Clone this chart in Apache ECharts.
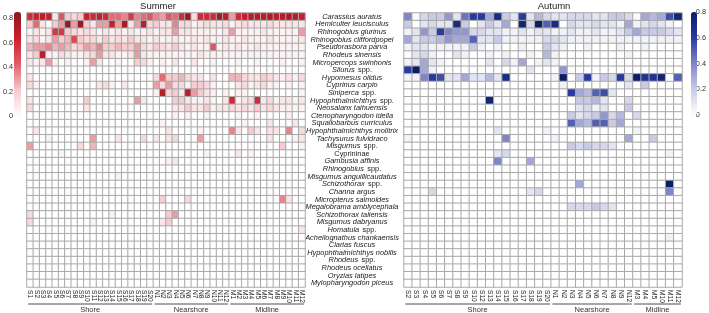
<!DOCTYPE html>
<html><head><meta charset="utf-8">
<script src="https://cdn.jsdelivr.net/npm/echarts@6/dist/echarts.min.js"></script>
<style>html,body{margin:0;padding:0;background:#fff}#c{width:709px;height:313px}</style>
</head><body><div id="c"></div>
<script>
const species = ['Carassius auratus','Hemiculter leucisculus','Rhinogobius giurinus','Rhinogobius cliffordpopei','Pseudorasbora parva','Rhodeus sinensis','Micropercops swinhonis','Silurus spp.','Hypomesus olidus','Cyprinus carpio','Siniperca spp.','Hypophthalmichthys spp.','Neosalanx taihuensis','Ctenopharyngodon idella','Squaliobarbus curriculus','Hypophthalmichthys molitrix','Tachysurus fulvidraco','Misgurnus spp.','Cyprininae','Gambusia affinis','Rhinogobius spp.','Misgurnus anguillicaudatus','Schizothorax spp.','Channa argus','Micropterus salmoides','Megalobrama amblycephala','Schizothorax taliensis','Misgurnus dabryanus','Homatula spp.','Acheilognathus chankaensis','Clarias fuscus','Hypophthalmichthys nobilis','Rhodeus spp.','Rhodeus ocellatus','Oryzias latipes','Mylopharyngodon piceus'];

const summerSites = ['S1','S2','S3','S4','S5','S6','S7','S8','S9','S10','S11','S12','S13','S14','S15','S16','S17','S18','S19','S20','N1','N2','N3','N4','N5','N6','N7','N8','N9','N10','N11','N12','M1','M2','M3','M4','M5','M6','M7','M8','M9','M10','M11','M12'];
const autumnSites = ['S2','S3','S4','S5','S6','S7','S8','S9','S10','S12','S13','S14','S15','S16','S17','S18','S19','S20','N1','N2','N3','N4','N5','N6','N7','N8','N9','N12','M3','M4','M5','M10','M11','M12'];
const summerGroups = [['Shore','S1','S20'],['Nearshore','N1','N12'],['Midline','M1','M12']];
const autumnGroups = [['Shore','S2','S20'],['Nearshore','N1','N12'],['Midline','M3','M12']];
const colorbarTicks = [0,0.2,0.4,0.6,0.8];

// Summer: one row per species, columns follow summerSites
const summerValues = [
[0.6,0.65,0.7,0.65,0.1,0.45,0.2,0.15,0.2,0.65,0.6,0.65,0.6,0.4,0.4,0.35,0.55,0.35,0.4,0.45, 0.35,0.3,0.45,0.4,0.6,0.8,0.15,0.6,0.6,0.6,0.75,0.7, 0.3,0.6,0.65,0.7,0.7,0.7,0.75,0.7,0.7,0.75,0.7,0.65],
[0.2,0.4,0.1,0,0.2,0.3,0.8,0.3,0.8,0.2,0.1,0.3,0.3,0.65,0.3,0.75,0.1,0.3,0.7,0.15, 0.2,0.1,0.1,0.35,0.15,0.15,0.05,0.1,0.15,0.1,0.1,0.15, 0.05,0.1,0.15,0.1,0.1,0.1,0.15,0.1,0.1,0.1,0.1,0.1],
[0.05,0.1,0.05,0.1,0.55,0.55,0.2,0.15,0.1,0.15,0.1,0.05,0.1,0.05,0.1,0.05,0.1,0.05,0.05,0.1, 0.05,0.1,0.1,0.3,0.1,0.1,0.05,0.05,0.05,0.05,0.05,0.1, 0.3,0.05,0.05,0.05,0.05,0.1,0.05,0.05,0.05,0.05,0.05,0.3],
[0.1,0.15,0.05,0.1,0.3,0.2,0.25,0.5,0.2,0.15,0.15,0.1,0.2,0.1,0.15,0.1,0.2,0.1,0.1,0.05, 0.1,0.05,0.05,0.1,0.05,0.05,0.1,0.05,0.1,0.05,0.05,0.1, 0.05,0.05,0.1,0.05,0.05,0.05,0.1,0.05,0.05,0.05,0.05,0.1],
[0.25,0.3,0.3,0.35,0.25,0.3,0.25,0.15,0.2,0.3,0.25,0.35,0.2,0.2,0.25,0.2,0.2,0.3,0.15,0.1, 0.2,0.15,0.1,0.2,0.1,0.05,0.1,0.05,0.05,0.45,0.05,0.1, 0.05,0.1,0.05,0.05,0.1,0.05,0.05,0.05,0.05,0.05,0.05,0.05],
[0.1,0.2,0.7,0.05,0.05,0.15,0.1,0.05,0.05,0.1,0.15,0.3,0.1,0.1,0.05,0.05,0.1,0.3,0.1,0.05, 0.05,0.05,0.05,0.05,0.05,0.05,0.05,0.1,0.05,0.05,0.05,0.05, 0.05,0.05,0.05,0.05,0.05,0.05,0.05,0.05,0.05,0.05,0.05,0.05],
[0.1,0.05,0.1,0.3,0.05,0,0.05,0,0,0.05,0.3,0.1,0,0,0.05,0,0,0.2,0.15,0.05, 0,0.05,0,0.1,0,0,0.1,0,0,0.05,0,0, 0,0.05,0,0,0.05,0,0,0,0.05,0,0,0.05],
[0,0,0,0,0,0,0,0,0,0,0,0,0,0,0,0,0,0,0,0, 0,0,0,0,0,0,0,0,0,0,0,0, 0,0,0,0,0,0,0,0,0,0,0,0],
[0.1,0,0,0,0,0,0,0,0,0,0,0,0,0,0,0,0,0,0,0, 0.15,0.4,0.2,0.2,0.25,0.15,0.1,0.1,0,0.1,0,0, 0.25,0.25,0.15,0.1,0.1,0.2,0.15,0.1,0.05,0.1,0.05,0.15],
[0.15,0.05,0,0,0,0,0,0,0,0,0,0.1,0.15,0.05,0,0.1,0,0,0,0, 0.3,0.15,0.3,0.15,0.15,0.05,0.2,0.2,0.15,0.05,0,0, 0,0.1,0.15,0.05,0.1,0.15,0.05,0.05,0,0.05,0,0.05],
[0,0,0,0,0,0,0,0,0,0,0,0,0,0,0,0,0,0,0,0, 0.05,0.7,0.15,0.2,0.1,0.7,0.3,0.2,0.1,0.05,0,0.05, 0,0.05,0.05,0,0,0,0,0,0,0,0,0.05],
[0.1,0,0,0,0,0,0,0,0,0.2,0,0,0,0,0,0,0,0.3,0.1,0, 0,0,0,0.2,0.2,0.1,0.05,0.05,0.1,0.05,0,0.1, 0.6,0.05,0.1,0.15,0.6,0.1,0.15,0.05,0.1,0.1,0.05,0.1],
[0.15,0,0,0,0,0,0,0,0,0.1,0,0,0,0,0,0,0,0,0,0, 0,0,0,0.1,0.1,0.2,0.1,0.1,0.2,0.05,0.1,0.1, 0.15,0.1,0.15,0.1,0.2,0.1,0.15,0.1,0.05,0.05,0.05,0.05],
[0,0,0,0,0,0,0,0,0,0,0,0,0,0,0,0,0,0,0,0, 0,0,0,0.05,0,0.05,0,0,0.05,0,0,0, 0,0.05,0,0,0.05,0,0,0,0,0.05,0,0],
[0,0,0,0,0,0,0,0,0,0,0,0,0,0,0,0,0,0,0,0, 0,0.05,0,0,0,0,0,0,0,0,0,0, 0,0,0.05,0,0,0,0.1,0,0,0,0.1,0],
[0,0.1,0,0,0,0,0,0,0,0,0,0,0,0,0,0,0,0,0,0, 0,0,0.1,0,0,0,0,0.05,0,0,0,0, 0.35,0.1,0,0.2,0.1,0,0.1,0.1,0,0.35,0,0.15],
[0,0,0,0.05,0,0,0,0,0,0,0.3,0,0,0,0.1,0,0,0,0.15,0, 0.1,0,0.1,0.15,0,0,0,0.3,0,0,0,0, 0,0,0,0,0,0,0.1,0,0,0,0.05,0.1],
[0.3,0,0,0,0,0,0,0,0.15,0,0.25,0,0,0,0,0,0,0,0,0, 0,0,0,0,0,0,0,0,0,0,0,0, 0,0,0,0,0,0,0,0,0.2,0,0,0.05],
[0,0,0,0,0,0.05,0,0,0,0,0,0,0,0,0,0,0,0,0,0, 0,0,0,0,0,0,0,0,0.05,0,0,0, 0,0.1,0,0.05,0,0,0,0,0,0,0,0],
[0,0,0,0,0,0,0,0,0,0,0,0,0,0,0,0,0,0,0,0, 0,0,0.05,0.1,0,0,0,0,0,0,0,0, 0,0,0,0,0,0,0,0,0,0,0,0],
[0,0,0,0,0,0,0,0,0,0,0,0,0,0,0,0,0,0,0,0, 0,0,0,0,0,0,0,0,0,0,0,0, 0,0,0,0,0,0,0,0,0,0,0,0],
[0,0,0,0,0,0,0,0,0,0,0,0,0,0,0.05,0,0,0,0,0, 0,0,0,0,0,0,0,0,0,0,0,0, 0,0,0,0,0,0,0,0,0,0,0,0],
[0,0,0,0,0,0,0,0,0,0,0,0,0,0,0,0,0,0,0,0, 0,0,0,0,0,0,0,0,0,0,0,0, 0,0,0,0,0,0,0,0,0,0,0,0],
[0,0,0,0,0,0,0,0,0,0,0,0,0,0,0,0,0,0,0,0, 0,0,0,0,0,0,0,0,0,0,0,0, 0,0,0,0,0,0,0,0,0,0,0,0],
[0,0,0,0,0,0,0,0,0,0,0,0,0,0,0,0,0,0,0,0, 0,0.2,0,0,0,0.15,0,0,0,0,0,0, 0,0,0,0,0,0,0,0,0.35,0.1,0,0],
[0,0,0,0,0,0,0,0,0,0,0,0,0,0,0,0,0,0,0,0, 0,0,0,0,0,0,0,0,0,0,0,0, 0,0,0,0,0,0,0,0,0,0,0,0],
[0.15,0,0,0,0,0,0,0,0,0,0,0,0,0.05,0,0,0,0,0,0, 0,0,0.2,0.3,0,0,0,0,0,0,0,0, 0,0,0,0,0,0,0,0,0,0,0,0],
[0.15,0,0,0,0,0,0,0,0,0,0.05,0,0,0,0,0,0,0,0,0, 0,0.1,0.2,0,0,0,0,0,0,0,0,0, 0,0,0,0,0,0,0,0,0,0,0,0],
[0,0,0,0,0,0,0,0,0,0,0,0,0,0,0,0,0,0,0,0, 0,0,0,0,0,0,0,0,0,0,0,0, 0,0,0,0,0,0,0,0,0,0,0,0.1],
[0,0,0,0,0,0,0,0,0,0,0,0,0,0,0,0,0,0,0,0, 0,0,0,0,0,0,0,0,0,0,0,0, 0,0,0,0,0,0,0,0,0,0,0,0],
[0,0,0,0,0,0,0,0,0,0,0,0,0,0,0,0,0,0,0,0, 0,0,0,0,0,0,0,0,0,0,0,0, 0,0,0,0,0,0,0,0,0,0,0,0],
[0,0,0,0,0,0,0,0,0,0,0,0,0,0,0,0,0,0,0,0, 0,0,0,0,0,0,0,0,0,0,0,0, 0,0,0,0,0,0,0,0,0,0,0,0],
[0,0,0,0,0,0,0,0,0,0,0,0,0,0,0,0,0,0,0,0, 0,0,0,0,0,0,0,0,0,0,0,0, 0,0,0,0,0,0,0,0,0,0,0,0],
[0,0,0,0,0,0,0,0,0,0,0,0,0,0,0,0,0,0,0,0, 0,0,0,0,0,0,0,0,0,0,0,0, 0,0,0,0,0,0,0,0,0,0,0,0],
[0,0,0,0,0,0,0,0,0,0,0,0,0,0,0,0,0,0,0,0, 0,0,0,0,0,0,0,0,0,0,0,0, 0,0,0,0,0,0,0,0,0,0,0,0],
[0,0,0,0,0,0,0,0,0,0,0,0,0,0,0,0,0,0,0,0, 0,0,0,0,0,0,0,0,0,0,0,0, 0,0,0,0,0,0,0,0,0,0,0,0]
];

// Autumn: one row per species, columns follow autumnSites
const autumnValues = [
[0.4,0.02,0.15,0.2,0.2,0.35,0.1,0.45,0.6,0.6,0.3,0.7,0.2,0.1,0.6,0.1,0.25,0.15, 0.1,0.1,0.15,0.15,0.15,0.1,0.1,0.2,0.2,0.15, 0.02,0.3,0.25,0.3,0.55,0.75],
[0.2,0,0.1,0.15,0.1,0.1,0.7,0.2,0,0.1,0.2,0.1,0.3,0,0.75,0.15,0.85,0.5, 0.7,0,0.15,0.1,0.1,0.15,0.1,0.1,0.05,0.3, 0.05,0.1,0.15,0.1,0.05,0],
[0.05,0.1,0.35,0.2,0.6,0.4,0.35,0.35,0.15,0.15,0.1,0.1,0.05,0.05,0.1,0.05,0.1,0.1, 0.05,0.05,0.1,0.05,0.05,0.1,0.05,0.05,0.1,0.2, 0.3,0.2,0.2,0.2,0.15,0.1],
[0.3,0.1,0.2,0.2,0.25,0.35,0.3,0.3,0.5,0.1,0.1,0.2,0.05,0.05,0.05,0.05,0.05,0.15, 0.15,0.1,0.05,0.05,0.05,0.05,0.05,0.05,0.05,0.05, 0.05,0.05,0.05,0.05,0.05,0.05],
[0.05,0.1,0.1,0.05,0.05,0.05,0.05,0.05,0.2,0.05,0,0.05,0,0,0.05,0,0,0.2, 0.1,0.05,0,0,0.05,0,0,0,0.05,0, 0,0.05,0,0,0,0],
[0,0.1,0.15,0.05,0,0,0.1,0.05,0,0,0.05,0,0.05,0,0,0.05,0,0.25, 0.05,0,0,0,0,0,0,0,0,0.05, 0,0,0,0,0,0],
[0.05,0.1,0.3,0.1,0.05,0,0,0,0,0,0.1,0,0.15,0.05,0.3,0,0.05,0.1, 0.05,0,0,0,0,0,0,0,0,0, 0,0,0,0,0,0],
[0.6,0.8,0.3,0.05,0,0,0,0,0,0,0,0,0,0,0,0.1,0,0, 0,0.35,0,0,0,0,0,0,0,0, 0,0,0,0,0,0],
[0.05,0.05,0.4,0.6,0.55,0.1,0.1,0.3,0.1,0.1,0.25,0.1,0.7,0,0,0,0,0, 0.05,0.8,0,0.2,0.6,0.05,0.2,0.15,0.6,0.15, 0.8,0.65,0.65,0.75,0,0.5],
[0,0,0,0,0,0,0,0,0,0,0,0,0,0,0,0,0,0, 0,0.05,0,0,0,0,0,0,0,0.1, 0,0.2,0,0,0,0],
[0,0,0,0,0,0,0,0,0,0,0,0,0,0,0,0,0,0, 0,0,0.6,0.3,0.25,0.5,0.55,0.1,0,0, 0,0,0,0,0,0],
[0,0,0,0,0,0,0,0,0,0,0.75,0,0,0,0,0,0,0, 0,0,0,0.2,0.2,0.25,0.1,0,0,0.15, 0,0,0,0,0,0],
[0,0,0,0,0,0,0,0,0,0,0,0,0,0,0,0,0,0, 0,0,0,0.1,0.15,0.05,0.1,0,0,0.2, 0,0,0,0,0,0],
[0,0,0,0,0,0,0,0,0,0,0,0,0,0,0,0,0,0, 0,0,0.2,0.1,0.15,0.2,0.35,0.15,0.25,0, 0.15,0,0,0,0,0],
[0,0,0,0,0,0,0,0,0,0,0,0,0,0,0,0,0,0, 0,0,0.5,0.3,0.25,0.5,0.5,0.2,0.3,0, 0,0,0,0,0,0],
[0,0,0,0,0,0,0,0,0,0,0,0.1,0,0,0,0,0,0.05, 0,0,0,0,0,0,0,0,0,0, 0.05,0,0,0,0,0],
[0.05,0,0,0,0,0,0,0,0,0,0,0,0.4,0,0,0,0,0, 0.05,0,0,0,0,0,0,0,0,0.3, 0,0,0.2,0,0,0],
[0,0,0,0,0,0,0,0,0,0,0,0,0,0,0,0,0,0, 0,0,0.2,0.15,0.2,0.15,0.15,0.1,0,0, 0,0,0,0,0,0],
[0,0,0,0,0,0,0,0,0,0,0,0.1,0.15,0,0,0,0,0, 0,0,0,0,0,0,0,0,0,0, 0,0,0,0,0.05,0],
[0,0,0,0,0,0,0,0,0,0,0,0.4,0,0,0,0.3,0,0, 0,0,0,0,0,0,0,0,0,0, 0,0,0,0,0,0],
[0,0,0,0,0,0,0,0,0,0,0,0,0,0,0,0,0,0, 0,0,0,0,0,0,0,0,0,0, 0,0,0,0,0,0],
[0,0,0,0,0,0,0,0,0,0,0,0,0,0,0,0,0,0, 0,0,0,0,0,0,0,0,0,0, 0,0,0,0,0,0],
[0,0,0,0,0,0,0,0,0,0,0,0,0,0,0,0,0,0, 0,0,0,0.3,0,0,0,0,0,0, 0,0,0,0,0.8,0],
[0,0,0,0.15,0,0,0,0,0,0,0,0,0,0,0,0.1,0.15,0, 0,0,0,0,0,0,0,0,0,0, 0,0,0,0,0.4,0],
[0,0,0,0,0,0,0,0,0,0,0,0,0,0,0,0,0,0, 0,0,0,0,0,0,0,0,0,0, 0,0,0,0,0,0],
[0,0,0,0,0,0,0,0,0,0,0,0,0,0,0,0,0,0, 0,0,0.15,0.15,0.15,0.2,0.15,0.1,0,0, 0,0,0,0,0,0],
[0,0,0,0,0,0,0,0,0,0,0,0,0,0,0,0,0,0, 0,0,0,0,0,0,0,0,0,0, 0,0,0,0,0,0],
[0,0,0,0,0,0,0,0,0,0,0,0,0,0,0,0,0,0, 0,0,0,0,0,0,0,0,0,0, 0,0,0,0,0,0],
[0,0,0,0,0,0,0,0,0,0,0,0,0,0,0,0,0,0, 0,0,0,0,0,0,0,0,0,0, 0,0,0,0,0,0],
[0,0,0,0,0,0,0,0,0,0,0,0,0,0,0,0,0,0, 0,0,0,0,0,0,0,0,0,0, 0,0,0,0,0.05,0],
[0,0,0,0,0,0,0,0,0,0,0,0,0,0,0,0,0,0, 0,0,0,0,0,0,0,0,0,0, 0,0,0,0,0,0],
[0,0,0,0,0,0,0,0,0,0,0,0,0,0,0,0,0,0, 0,0,0,0,0,0,0,0,0,0, 0,0,0,0,0,0],
[0,0,0,0,0,0,0,0,0,0,0,0,0,0,0,0,0,0, 0,0,0,0,0,0,0,0,0,0, 0,0,0,0,0,0],
[0,0,0,0,0,0,0,0,0,0,0,0,0,0,0,0,0,0, 0,0,0,0,0,0,0,0,0,0, 0,0,0,0,0,0],
[0,0,0,0,0,0,0,0,0,0,0,0,0,0,0,0,0,0, 0,0,0,0,0,0,0,0,0,0, 0,0,0,0,0,0],
[0,0,0,0,0,0,0,0,0,0,0,0,0,0,0,0,0,0, 0,0,0,0,0,0,0,0,0,0, 0,0,0,0,0,0]
];

const FONT = 'Liberation Sans';
const toCells = (values) => {
  const out = [];
  values.forEach((row, r) => row.forEach((v, c) => out.push([c, r, v])));
  return out;
};
const speciesLabel = (name) => {
  if (name === 'Cyprininae') return '{n|Cyprininae}';
  if (name.endsWith(' spp.')) return '{i|' + name.slice(0, -5) + '} {n|spp.}';
  return '{i|' + name + '}';
};
const labelRich = {
  i: {fontStyle: 'italic', fontSize: 7.4, fontFamily: FONT, color: '#1a1a1a'},
  n: {fontStyle: 'normal', fontSize: 7.4, fontFamily: FONT, color: '#1a1a1a'}
};
const tickFmt = (v) => {
  const k = v * 5;
  if (Math.abs(k - Math.round(k)) > 1e-6) return '';
  return String(Math.round(v * 10) / 10);
};
const cellStyle = {borderColor: '#a9a9a9', borderWidth: 1};
const siteAxis = (sites, gridIndex) => ({
  type: 'category', gridIndex, data: sites, position: 'bottom',
  axisLine: {show: false}, axisTick: {show: false}, splitLine: {show: false},
  axisLabel: {interval: 0, rotate: -90, fontSize: 6.6, fontFamily: FONT, color: '#222', margin: 3}
});

const chart = echarts.init(document.getElementById('c'), null, {renderer: 'canvas'});
chart.setOption({
  animation: false,
  grid: [
    {left: 27, top: 13, width: 278, height: 274},
    {left: 404, top: 13, width: 278, height: 274},
    {left: 14, top: 12, width: 7, height: 104},
    {left: 691, top: 12, width: 6, height: 103}
  ],
  xAxis: [
    siteAxis(summerSites, 0),
    siteAxis(autumnSites, 1),
    {type: 'value', gridIndex: 2, show: false},
    {type: 'value', gridIndex: 3, show: false}
  ],
  yAxis: [
    {type: 'category', gridIndex: 0, data: species, inverse: true, position: 'right',
     axisLine: {show: false}, axisTick: {show: false},
     axisLabel: {interval: 0, align: 'center', margin: 47, formatter: speciesLabel, rich: labelRich}},
    {type: 'category', gridIndex: 1, data: species, inverse: true,
     axisLine: {show: false}, axisTick: {show: false}, axisLabel: {show: false}},
    {type: 'value', gridIndex: 2, min: 0, max: 0.85, interval: 0.2, position: 'left',
     axisLine: {show: false}, axisTick: {show: false}, splitLine: {show: false},
     axisLabel: {formatter: tickFmt, fontSize: 7.3, fontFamily: FONT, color: '#333', margin: 3}},
    {type: 'value', gridIndex: 3, min: 0, max: 0.8, interval: 0.2, position: 'right',
     axisLine: {show: false}, axisTick: {show: false}, splitLine: {show: false},
     axisLabel: {formatter: tickFmt, fontSize: 7.3, fontFamily: FONT, color: '#333', margin: 3}}
  ],
  visualMap: [
    {type: 'continuous', seriesIndex: 0, min: 0, max: 0.85, left: 14, top: 12, itemWidth: 7, itemHeight: 104,
     padding: 0, calculable: false, hoverLink: false, text: null, showLabel: false,
     inRange: {color: ['#ffffff', '#f5c9cd', '#df5f6a', '#cb1f2c', '#8a1a1e']}},
    {type: 'continuous', seriesIndex: 1, min: 0, max: 0.8, left: 691, top: 12, itemWidth: 6, itemHeight: 103,
     padding: 0, calculable: false, hoverLink: false, text: null, showLabel: false,
     inRange: {color: ['#ffffff', '#c9cbe6', '#7f85c6', '#283a9e', '#0c1d68']}}
  ],
  series: [
    {type: 'heatmap', xAxisIndex: 0, yAxisIndex: 0, data: toCells(summerValues), itemStyle: cellStyle, emphasis: {disabled: true}},
    {type: 'heatmap', xAxisIndex: 1, yAxisIndex: 1, data: toCells(autumnValues), itemStyle: cellStyle, emphasis: {disabled: true}}
  ]
});

// titles and group brackets placed from the axes' own pixel positions
const graphics = [];
const addGroups = (axisIdx, sites, groups) => {
  const p0 = chart.convertToPixel({xAxisIndex: axisIdx}, sites[0]);
  const p1 = chart.convertToPixel({xAxisIndex: axisIdx}, sites[1]);
  const half = (p1 - p0) / 2;
  groups.forEach(([name, a, b]) => {
    const x1 = chart.convertToPixel({xAxisIndex: axisIdx}, a) - half + 1.2;
    const x2 = chart.convertToPixel({xAxisIndex: axisIdx}, b) + half - 1.2;
    graphics.push({type: 'line', shape: {x1, y1: 304, x2, y2: 304}, style: {stroke: '#222', lineWidth: 0.8}});
    graphics.push({type: 'text', x: (x1 + x2) / 2, y: 309.5,
      style: {text: name, fontSize: 7.5, fontFamily: FONT, fill: '#333', textAlign: 'center', textVerticalAlign: 'middle'}});
  });
};
addGroups(0, summerSites, summerGroups);
addGroups(1, autumnSites, autumnGroups);
graphics.push({type: 'text', x: 158, y: 6, style: {text: 'Summer', fontSize: 9.5, fontFamily: FONT, fill: '#222', textAlign: 'center', textVerticalAlign: 'middle'}});
graphics.push({type: 'text', x: 554, y: 6, style: {text: 'Autumn', fontSize: 9.5, fontFamily: FONT, fill: '#222', textAlign: 'center', textVerticalAlign: 'middle'}});
chart.setOption({graphic: graphics});
</script>
</body></html>
